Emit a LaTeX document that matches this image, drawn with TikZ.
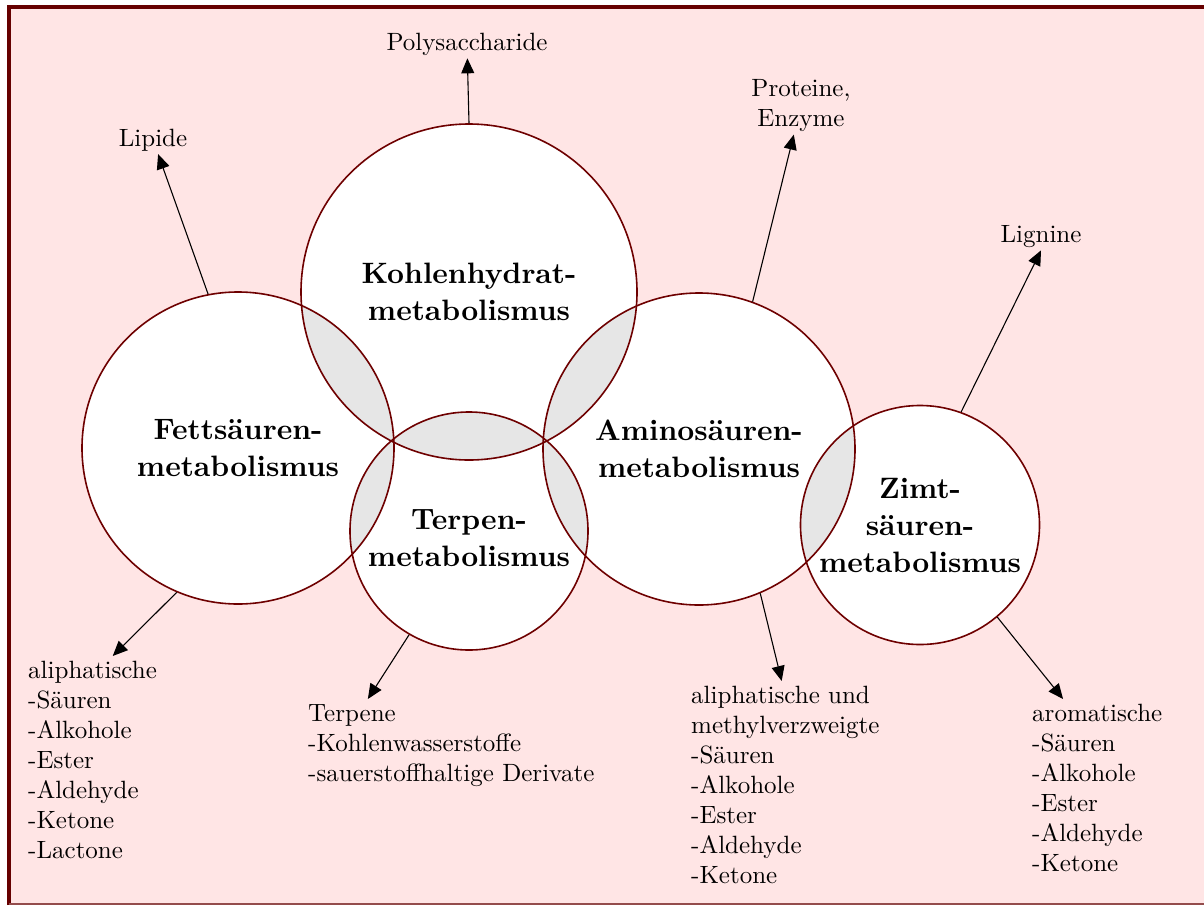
\documentclass[tikz,border=0pt]{standalone}
\usetikzlibrary{calc,arrows.meta,backgrounds}
\DeclareFontFamily{TU}{lmzehn}{}
\DeclareFontShape{TU}{lmzehn}{m}{n}{<-> \UnicodeFontFile{lmroman10-regular}{\UnicodeFontTeXLigatures}}{}
\DeclareFontShape{TU}{lmzehn}{bx}{n}{<-> \UnicodeFontFile{lmroman10-bold}{\UnicodeFontTeXLigatures}}{}
\DeclareFontShape{TU}{lmzehn}{b}{n}{<-> ssub * lmzehn/bx/n}{}
\renewcommand\rmdefault{lmzehn}
\definecolor{hintergrund}{RGB}{255,229,229}
\definecolor{rahmen}{RGB}{102,0,0}
\definecolor{kreislinie}{RGB}{110,0,0}
\definecolor{schnitt}{RGB}{230,230,230}

\begin{document}
\begin{tikzpicture}[x=1pt,y=-1pt,
		kreis/.style={circle,draw=kreislinie,line width=1.6pt,inner sep=0pt,align=center,
			font=\fontsize{29.5}{37}\selectfont\bfseries},
		ziel/.style={font=\fontsize{25}{30}\selectfont,inner sep=3pt},
		liste/.style={ziel,align=left,anchor=north west,inner sep=5pt},
		pfeil/.style={line width=1.1pt,-{Triangle[length=15pt,width=13pt]}}]
				\useasboundingbox (0,0) rectangle (1204,905);
				
				% die fuenf Stoffwechselkreise
				\node[kreis,minimum size=336pt] (kohl) at (469,292) {Kohlenhydrat-\\metabolismus};
				\node[kreis,minimum size=312pt] (fett) at (238,448) {Fettsäuren-\\metabolismus};
				\node[kreis,minimum size=238pt] (terp) at (469,531) {\rule{0pt}{34pt}Terpen-\\metabolismus};
				\node[kreis,minimum size=312pt] (amino) at (699,449) {Aminosäuren-\\metabolismus};
				\node[kreis,minimum size=239pt] (zimt) at (920,525) {Zimt-\\säuren-\\metabolismus};
				
				% Produkte oben
				\node[ziel,anchor=base] (poly) at (467,50) {Polysaccharide};
				\node[ziel,anchor=base] (lipide) at (153,146) {Lipide};
				\node[ziel,align=center,anchor=north] (prot) at (801,76) {Proteine,\\Enzyme};
				\node[ziel,anchor=base] (lignin) at (1041,242) {Lignine};
				
				% Aromastoffe unten
				\node[liste] (fettaus) at (23,656) {aliphatische\\-Säuren\\-Alkohole\\-Ester\\-Aldehyde\\-Ketone\\-Lactone};
				\node[liste] (terpaus) at (303,699) {Terpene\\-Kohlenwasserstoffe\\-sauerstoffhaltige Derivate};
				\node[liste] (aminoaus) at (686,681) {aliphatische und\\methylverzweigte\\-Säuren\\-Alkohole\\-Ester\\-Aldehyde\\-Ketone};
				\node[liste] (zimtaus) at (1027,699) {aromatische\\-Säuren\\-Alkohole\\-Ester\\-Aldehyde\\-Ketone};
				
				\draw[pfeil] (kohl.north) -- (poly);
				\draw[pfeil] (fett.101) -- (lipide);
				\draw[pfeil] (amino.70) -- (prot);
				\draw[pfeil] (zimt.70) -- (lignin.south);
				\draw[pfeil] (fett.247) -- (fettaus.79);
				\draw[pfeil] (terp.240) -- (terpaus.151);
				\draw[pfeil] (amino.293) -- (aminoaus.92);
				\draw[pfeil] (zimt.310) -- (zimtaus.111);
				
				\begin{scope}[on background layer]
					\fill[white] (0,0) rectangle (1204,905);
					\fill[hintergrund] (9,7) rectangle (1204,904);
					\draw[rahmen,line width=4pt] (9,905) -- (9,7) -- (1204,7);
					\draw[rahmen!70,line width=1.2pt] (9,904) -- (1204,904);
					\foreach \k/\r in {kohl/168,fett/156,terp/119,amino/156,zimt/119.5}
						\fill[white] (\k.center) circle [radius=\r];
					% Schnittflaechen grau
					\foreach \a/\ra/\b/\rb in {fett/156/kohl/168,kohl/168/terp/119,fett/156/terp/119,
						terp/119/amino/156,kohl/168/amino/156,amino/156/zimt/119.5}{
						\begin{scope}
							\clip (\a.center) circle [radius=\ra];
							\fill[schnitt] (\b.center) circle [radius=\rb];
						\end{scope}}
				\end{scope}
			\end{tikzpicture}
\end{document}
